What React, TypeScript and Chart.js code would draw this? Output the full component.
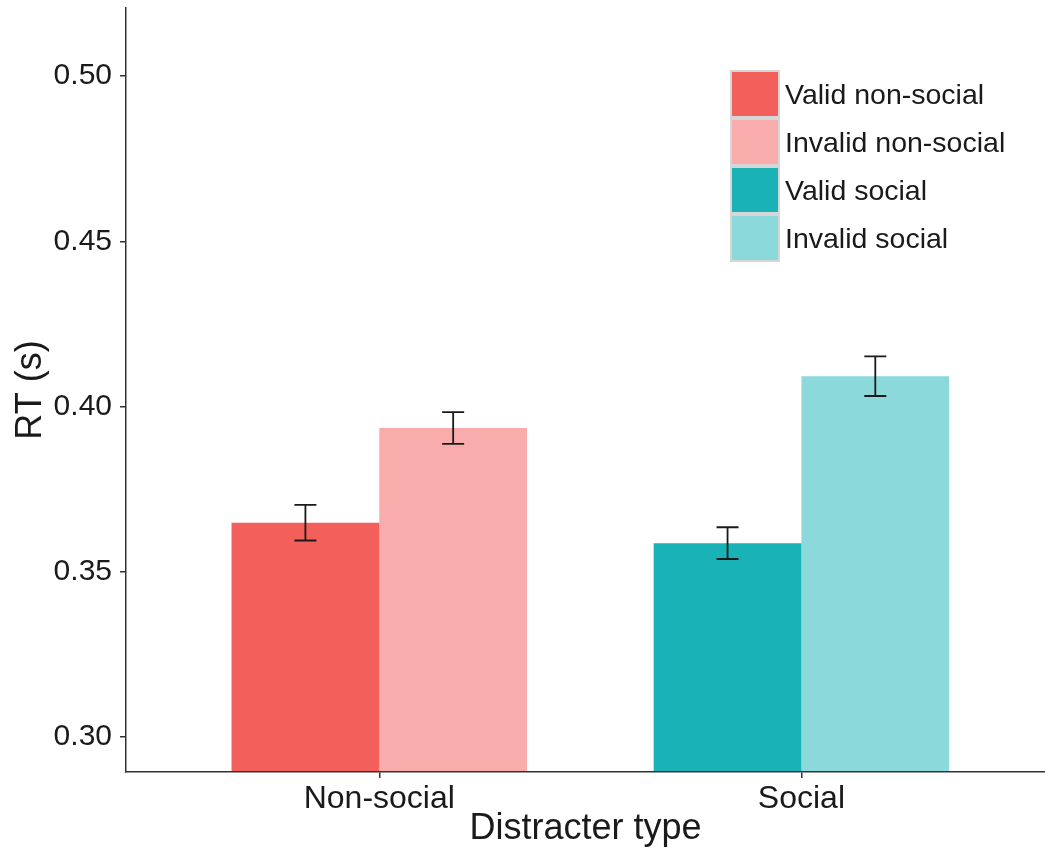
import React, { useEffect, useRef } from 'react';
import { Chart, registerables } from 'chart.js';

Chart.register(...registerables);

// ---- Data ----
const categories = ['Non-social', 'Social'];
const seriesLabels = ['Valid non-social', 'Invalid non-social', 'Valid social', 'Invalid social'];
const seriesCategory = [0, 0, 1, 1];
const meanRT = [0.3649, 0.3935, 0.3587, 0.4092];
const seError = [0.0054, 0.0048, 0.0048, 0.006];
const seriesColors = ['#F35F5A', '#F8ACAC', '#19B3B7', '#8BD9DB'];
const yTicks = [0.3, 0.35, 0.4, 0.45, 0.5];

const FONT = '"Liberation Sans", Arial, Helvetica, sans-serif';
const TEXT = '#1a1a1a';
const AXIS = '#333333';

const errorBarPlugin = {
  id: 'errorBars',
  afterDatasetsDraw(chart: any) {
    const { ctx } = chart;
    const yScale = chart.scales.y;
    ctx.save();
    ctx.strokeStyle = '#1a1a1a';
    ctx.lineWidth = 1.8;
    chart.data.datasets.forEach((ds: any, di: number) => {
      const meta = chart.getDatasetMeta(di);
      meta.data.forEach((el: any, i: number) => {
        const pt = ds.data[i];
        if (!pt || pt.y == null) return;
        const err = ds.errorValue;
        const x = el.x;
        const yTop = yScale.getPixelForValue(pt.y + err);
        const yBot = yScale.getPixelForValue(pt.y - err);
        const half = 11;
        ctx.beginPath();
        ctx.moveTo(x, yTop);
        ctx.lineTo(x, yBot);
        ctx.moveTo(x - half, yTop);
        ctx.lineTo(x + half, yTop);
        ctx.moveTo(x - half, yBot);
        ctx.lineTo(x + half, yBot);
        ctx.stroke();
      });
    });
    ctx.restore();
  },
};

const legendPlugin = {
  id: 'insideLegend',
  afterDraw(chart: any, _args: any, opts: any) {
    const { ctx } = chart;
    const { left, top, keyW, keyH, border, textGap, fontSize } = opts;
    const dsets = chart.data.datasets;
    ctx.save();
    ctx.fillStyle = '#d6d6d6';
    ctx.fillRect(left, top, keyW, keyH * dsets.length);
    ctx.font = `${fontSize}px ${FONT}`;
    ctx.textAlign = 'left';
    ctx.textBaseline = 'alphabetic';
    dsets.forEach((ds: any, i: number) => {
      const y0 = top + i * keyH;
      ctx.fillStyle = ds.backgroundColor;
      ctx.fillRect(left + border, y0 + border, keyW - 2 * border, keyH - 2 * border);
      ctx.fillStyle = TEXT;
      ctx.fillText(ds.label, left + keyW + textGap, y0 + keyH / 2 + fontSize * 0.36);
    });
    ctx.restore();
  },
};

export default function App() {
  const canvasRef = useRef<HTMLCanvasElement | null>(null);

  useEffect(() => {
    if (!canvasRef.current) return;
    Chart.defaults.font.family = FONT;

    const datasets = seriesLabels.map((label, si) => ({
      label,
      data: categories.map((_, ci) => ({
        x: ci + 1,
        y: ci === seriesCategory[si] ? meanRT[si] : null,
      })),
      backgroundColor: seriesColors[si],
      borderWidth: 0,
      errorValue: seError[si],
      categoryPercentage: 0.7,
      barPercentage: 1.0,
      skipNull: true,
    }));

    const chart = new Chart(canvasRef.current, {
      type: 'bar',
      data: { datasets } as any,
      plugins: [errorBarPlugin, legendPlugin],
      options: {
        responsive: false,
        animation: false,
        layout: { padding: { top: 8, left: 0, right: 0, bottom: 0 } },
        plugins: {
          legend: { display: false },
          tooltip: { enabled: false },
          insideLegend: { left: 730, top: 70, keyW: 50, keyH: 48, border: 2, textGap: 5, fontSize: 28.5 },
        } as any,
        scales: {
          x: {
            type: 'linear',
            min: 0.4,
            max: 2.577,
            offset: false,
            grid: {
              display: true,
              offset: false,
              drawOnChartArea: false,
              drawTicks: true,
              tickLength: 6,
              color: AXIS,
              lineWidth: 1.5,
            },
            border: { display: true, color: AXIS, width: 1.5, z: 1 },
            ticks: {
              font: { size: 32 },
              color: TEXT,
              padding: 2,
              maxRotation: 0,
              autoSkip: false,
              callback: (v: any) => categories[Math.round(Number(v)) - 1] ?? '',
            },
            afterBuildTicks: (s: any) => {
              s.ticks = categories.map((_, i) => ({ value: i + 1 }));
            },
            afterFit: (s: any) => {
              s.height = 79;
              s.paddingLeft = 0;
              s.paddingRight = 0;
            },
            title: {
              display: true,
              text: 'Distracter type',
              font: { size: 36 },
              color: TEXT,
              padding: { top: 0, bottom: 0 },
            },
          },
          y: {
            type: 'linear',
            min: 0.28948,
            max: 0.52056,
            grid: {
              display: true,
              drawOnChartArea: false,
              drawTicks: true,
              tickLength: 6,
              color: AXIS,
              lineWidth: 1.5,
            },
            border: { display: true, color: AXIS, width: 1.5, z: 1 },
            ticks: {
              font: { size: 30 },
              color: TEXT,
              padding: 8,
              callback: (v: any) => Number(v).toFixed(2),
            },
            afterBuildTicks: (s: any) => {
              s.ticks = yTicks.map((v) => ({ value: v }));
            },
            afterFit: (s: any) => {
              s.width = 126;
              s.paddingTop = 0;
              s.paddingBottom = 0;
            },
            title: {
              display: true,
              text: 'RT (s)',
              font: { size: 36 },
              color: TEXT,
              padding: { top: 9, bottom: 0 },
            },
          },
        },
      } as any,
    });

    return () => chart.destroy();
  }, []);

  return (
    <div style={{ position: 'absolute', left: 0, top: 0, width: 1045, height: 851, background: '#fff' }}>
      <canvas ref={canvasRef} width={1045} height={851} style={{ display: 'block' }} />
    </div>
  );
}
